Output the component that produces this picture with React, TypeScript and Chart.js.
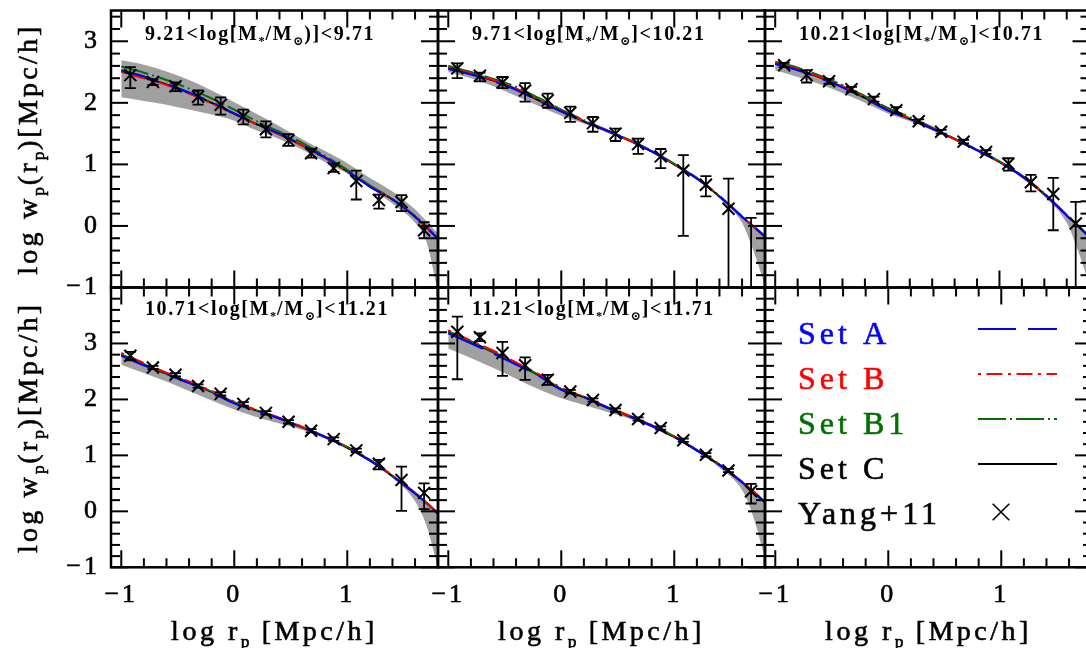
import React, { useEffect, useRef } from 'react';
import { Chart, registerables } from 'chart.js';

Chart.register(...registerables);

// ---------------- data ----------------
const X_TICK_VALUES = [-1, 0, 1];
const Y_TICK_VALUES = [-1, 0, 1, 2, 3];

const PANEL_LO = ['9.21', '9.71', '10.21', '10.71', '11.21'];
const PANEL_HI = ['9.71', '10.21', '10.71', '11.21', '11.71'];
const PANEL_CLOSE = [')]', ']', ']', ']', ']'];

const SERIES_NAMES = ['Set A', 'Set B', 'Set B1', 'Set C', 'Yang+11'];

const YANG_LOG_RP = [-0.92, -0.72, -0.52, -0.32, -0.12, 0.08, 0.28, 0.48, 0.68, 0.88, 1.08, 1.28, 1.48, 1.68];

const YANG_WP = [
  [2.45, 2.34, 2.27, 2.10, 1.97, 1.78, 1.57, 1.39, 1.18, 0.94, 0.73, 0.42, 0.39, -0.07],
  [2.56, 2.44, 2.33, 2.20, 2.04, 1.84, 1.67, 1.50, 1.33, 1.13, 0.90, 0.67, 0.28, -1.3],
  [2.61, 2.45, 2.35, 2.22, 2.06, 1.88, 1.70, 1.53, 1.37, 1.20, 1.01, 0.71, 0.52, 0.04],
  [2.78, 2.57, 2.44, 2.24, 2.10, 1.92, 1.76, 1.60, 1.44, 1.29, 1.09, 0.85, 0.56, 0.33],
  [3.21, 3.11, 2.83, 2.61, 2.35, 2.14, 1.99, 1.81, 1.65, 1.49, 1.27, 1.01, 0.73, 0.36],
];
const YANG_HI = [
  [2.58, 2.38, 2.33, 2.20, 2.09, 1.89, 1.70, 1.49, 1.25, 1.01, 0.90, 0.51, 0.50, 0.06],
  [2.64, 2.49, 2.42, 2.32, 2.15, 1.94, 1.77, 1.58, 1.42, 1.25, 1.15, 0.81, 0.77, 0.13],
  [2.65, 2.53, 2.39, 2.26, 2.10, 1.93, 1.73, 1.56, 1.40, 1.23, 1.10, 0.83, 0.78, 0.39],
  [2.85, 2.60, 2.47, 2.27, 2.13, 1.95, 1.79, 1.63, 1.47, 1.32, 1.12, 0.92, 0.80, 0.50],
  [3.48, 3.18, 3.03, 2.75, 2.44, 2.17, 2.02, 1.84, 1.68, 1.52, 1.30, 1.04, 0.76, 0.49],
];
const YANG_LO = [
  [2.24, 2.29, 2.19, 1.97, 1.81, 1.65, 1.44, 1.30, 1.11, 0.88, 0.43, 0.28, 0.24, -0.20],
  [2.40, 2.35, 2.24, 2.02, 1.92, 1.69, 1.53, 1.38, 1.17, 0.94, -0.16, 0.48, -1.6, -1.6],
  [2.58, 2.33, 2.31, 2.18, 2.02, 1.83, 1.67, 1.50, 1.34, 1.17, 0.90, 0.56, -0.07, -1.6],
  [2.70, 2.54, 2.41, 2.21, 2.07, 1.89, 1.73, 1.57, 1.41, 1.26, 1.06, 0.75, 0.01, 0.04],
  [2.36, 3.04, 2.42, 2.35, 2.26, 2.11, 1.96, 1.78, 1.62, 1.46, 1.24, 0.98, 0.70, 0.14],
];

const MODEL_LOG_RP = [-1.0, -0.8, -0.6, -0.4, -0.2, 0.0, 0.2, 0.4, 0.6, 0.8, 1.0, 1.2, 1.4, 1.6, 1.7, 1.8];

const SET_A = [
  [2.53, 2.43, 2.31, 2.17, 2.01, 1.83, 1.66, 1.50, 1.32, 1.12, 0.89, 0.64, 0.43, 0.15, -0.02, -0.21],
  [2.55, 2.46, 2.35, 2.21, 2.03, 1.86, 1.70, 1.55, 1.39, 1.21, 1.00, 0.77, 0.48, 0.15, -0.01, -0.17],
  [2.63, 2.53, 2.40, 2.25, 2.07, 1.88, 1.74, 1.58, 1.41, 1.23, 1.04, 0.81, 0.52, 0.17, 0.00, -0.18],
  [2.78, 2.61, 2.45, 2.29, 2.12, 1.93, 1.79, 1.66, 1.50, 1.33, 1.14, 0.91, 0.63, 0.32, 0.15, -0.04],
  [3.18, 3.00, 2.82, 2.62, 2.42, 2.17, 2.04, 1.86, 1.70, 1.53, 1.33, 1.09, 0.83, 0.52, 0.35, 0.16],
];
const SET_B = [
  [2.50, 2.40, 2.29, 2.15, 1.99, 1.82, 1.65, 1.49, 1.31, 1.11, 0.88, 0.64, 0.43, 0.15, -0.02, -0.21],
  [2.58, 2.48, 2.37, 2.23, 2.05, 1.87, 1.71, 1.55, 1.39, 1.21, 1.00, 0.77, 0.48, 0.15, -0.01, -0.17],
  [2.65, 2.55, 2.42, 2.27, 2.09, 1.90, 1.75, 1.59, 1.41, 1.23, 1.04, 0.81, 0.52, 0.17, 0.00, -0.18],
  [2.83, 2.65, 2.48, 2.32, 2.15, 1.96, 1.81, 1.67, 1.51, 1.34, 1.15, 0.92, 0.64, 0.33, 0.16, -0.03],
  [3.24, 3.05, 2.87, 2.66, 2.45, 2.21, 2.05, 1.87, 1.71, 1.54, 1.34, 1.10, 0.84, 0.53, 0.36, 0.17],
];
const SET_B1 = [
  [2.59, 2.49, 2.37, 2.23, 2.07, 1.89, 1.70, 1.53, 1.35, 1.14, 0.91, 0.66, 0.44, 0.16, -0.01, -0.20],
  [2.60, 2.50, 2.39, 2.26, 2.08, 1.89, 1.72, 1.56, 1.40, 1.22, 1.01, 0.78, 0.49, 0.16, 0.00, -0.16],
  [2.67, 2.57, 2.44, 2.29, 2.11, 1.92, 1.77, 1.60, 1.42, 1.24, 1.05, 0.82, 0.53, 0.18, 0.01, -0.17],
  [2.81, 2.63, 2.47, 2.31, 2.14, 1.95, 1.80, 1.67, 1.51, 1.34, 1.15, 0.92, 0.64, 0.33, 0.16, -0.03],
  [3.22, 3.04, 2.85, 2.65, 2.44, 2.19, 2.05, 1.87, 1.71, 1.54, 1.34, 1.10, 0.84, 0.53, 0.36, 0.17],
];
const SET_C = [
  [2.51, 2.41, 2.30, 2.16, 2.00, 1.82, 1.65, 1.49, 1.31, 1.11, 0.89, 0.64, 0.43, 0.15, -0.02, -0.21],
  [2.57, 2.47, 2.36, 2.22, 2.04, 1.86, 1.70, 1.55, 1.39, 1.21, 1.00, 0.77, 0.48, 0.15, -0.01, -0.17],
  [2.64, 2.54, 2.41, 2.26, 2.08, 1.89, 1.74, 1.58, 1.41, 1.23, 1.04, 0.81, 0.52, 0.17, 0.00, -0.18],
  [2.80, 2.62, 2.46, 2.30, 2.13, 1.94, 1.80, 1.66, 1.50, 1.33, 1.14, 0.91, 0.63, 0.32, 0.15, -0.04],
  [3.21, 3.03, 2.84, 2.64, 2.43, 2.18, 2.04, 1.86, 1.70, 1.53, 1.33, 1.09, 0.83, 0.52, 0.35, 0.16],
];
const BAND_HI = [
  [2.69, 2.62, 2.51, 2.37, 2.20, 2.01, 1.82, 1.62, 1.41, 1.22, 1.02, 0.78, 0.56, 0.27, 0.08, -0.12],
  [2.62, 2.51, 2.39, 2.25, 2.07, 1.88, 1.71, 1.55, 1.39, 1.21, 1.00, 0.77, 0.48, 0.16, 0.00, -0.16],
  [2.64, 2.54, 2.41, 2.26, 2.08, 1.89, 1.74, 1.58, 1.41, 1.23, 1.04, 0.81, 0.52, 0.17, 0.01, -0.17],
  [2.82, 2.63, 2.46, 2.29, 2.11, 1.93, 1.79, 1.66, 1.50, 1.33, 1.14, 0.91, 0.63, 0.31, 0.15, -0.04],
  [3.21, 3.02, 2.83, 2.62, 2.42, 2.18, 2.03, 1.86, 1.70, 1.53, 1.33, 1.09, 0.83, 0.52, 0.35, 0.17],
];
const BAND_LO = [
  [2.09, 2.03, 1.97, 1.89, 1.81, 1.71, 1.55, 1.41, 1.24, 1.04, 0.85, 0.62, 0.36, 0.05, -0.25, -1.05],
  [2.50, 2.40, 2.27, 2.11, 1.95, 1.79, 1.66, 1.52, 1.37, 1.19, 0.98, 0.75, 0.45, 0.05, -0.40, -0.95],
  [2.53, 2.42, 2.30, 2.16, 2.00, 1.83, 1.70, 1.55, 1.39, 1.21, 1.02, 0.78, 0.48, 0.05, -0.40, -0.95],
  [2.62, 2.47, 2.32, 2.15, 1.98, 1.82, 1.68, 1.57, 1.46, 1.30, 1.11, 0.88, 0.60, 0.18, -0.25, -0.98],
  [2.91, 2.74, 2.56, 2.37, 2.18, 2.02, 1.90, 1.78, 1.66, 1.50, 1.30, 1.06, 0.78, 0.38, -0.10, -0.82],
];

// ---------------- layout & style ----------------
const CANVAS_W = 1100;
const CANVAS_H = 648;
const FRAME_LEFT = 111;
const PANEL_W = 327;
const ROW_TOP = [6.25, 287.5];
const ROW_BOTTOM = [287.5, 567.3];
const ROW_YMAX = [3.5, 4];
const X_MIN = -1.091;
const X_MAX = 1.803;
const Y_MIN = -1;
const Y_AXIS_W = 95;
const X_AXIS_H = 55;

const SERIF = '"Liberation Serif", "Times New Roman", "DejaVu Serif", serif';
const BLUE = '#0000ff';
const RED = '#ff0000';
const GREEN = '#007000';
const BLACK = '#000000';
const GRAY = '#a0a0a0';
const LEGEND_COLORS = [BLUE, RED, GREEN, BLACK, BLACK];
const DASH_A = [38, 12];
const DASH_B = [3, 5.5, 16, 5.5];
const DASH_B1 = [28, 4, 2, 4];
const LEGEND_DASHES = [DASH_A, DASH_B, DASH_B1, []];

type Seg = { t: string; sub?: boolean };

function segWidth(ctx: CanvasRenderingContext2D, segs: Seg[], size: number, weight: string, ls: number) {
  let w = 0;
  for (const s of segs) {
    const fs = s.sub ? size * 0.62 : size;
    ctx.font = `${weight} ${fs}px ${SERIF}`;
    (ctx as any).letterSpacing = `${s.sub ? ls * 0.5 : ls}px`;
    w += ctx.measureText(s.t).width;
  }
  return w;
}

function drawRich(ctx: CanvasRenderingContext2D, segs: Seg[], x: number, y: number, size: number, weight: string, ls: number, color: string, stroke = 0) {
  ctx.fillStyle = color;
  ctx.strokeStyle = color;
  ctx.textAlign = 'left';
  ctx.textBaseline = 'alphabetic';
  let cx = x;
  for (const s of segs) {
    const fs = s.sub ? size * 0.62 : size;
    ctx.font = `${weight} ${fs}px ${SERIF}`;
    (ctx as any).letterSpacing = `${s.sub ? ls * 0.5 : ls}px`;
    const yy = y + (s.sub ? size * 0.25 : 0);
    ctx.fillText(s.t, cx, yy);
    if (stroke > 0) {
      ctx.lineWidth = stroke;
      ctx.setLineDash([]);
      ctx.strokeText(s.t, cx, yy);
    }
    cx += ctx.measureText(s.t).width;
  }
}

function fmtTick(v: any) {
  const n = Number(v);
  return n < 0 ? '\u2212' + Math.abs(n) : String(n);
}

function panelPlugin(p: number) {
  const col = p % 3;
  const row = Math.floor(p / 3);
  return {
    id: 'panelDecor' + p,
    beforeDraw(chart: any) {
      chart.ctx.letterSpacing = '3px';
    },
    afterDraw(chart: any) {
      const ctx: CanvasRenderingContext2D = chart.ctx;
      const a = chart.chartArea;
      const xs = chart.scales.x;
      const ys = chart.scales.y;
      ctx.save();
      // inward ticks on all four sides
      ctx.strokeStyle = BLACK;
      ctx.lineWidth = 2;
      ctx.lineCap = 'butt';
      const seg = (x1: number, y1: number, x2: number, y2: number) => {
        ctx.beginPath();
        ctx.moveTo(x1, y1);
        ctx.lineTo(x2, y2);
        ctx.stroke();
      };
      for (let k = 0; k < 40; k++) {
        const v = -1 + 0.2 * k;
        if (v > X_MAX + 1e-6) break;
        const px = xs.getPixelForValue(v);
        const major = Math.abs(v - Math.round(v)) < 1e-6;
        const L = major ? 17 : 9;
        seg(px, a.top, px, a.top + L);
        seg(px, a.bottom, px, a.bottom - L);
      }
      for (let k = 0; k < 40; k++) {
        const v = Y_MIN + 0.2 * k;
        if (v > ROW_YMAX[row] + 1e-6) break;
        const py = ys.getPixelForValue(v);
        const major = Math.abs(v - Math.round(v)) < 1e-6;
        const L = major ? 17 : 9;
        seg(a.left, py, a.left + L, py);
        seg(a.right, py, a.right - L, py);
      }
      // frame
      ctx.lineWidth = 2.5;
      ctx.strokeRect(a.left, a.top, a.right - a.left, a.bottom - a.top);

      // panel title
      if (p < 5) {
        const segs: Seg[] = [
          { t: `${PANEL_LO[p]}<log[M` },
          { t: '*', sub: true },
          { t: '/M' },
          { t: '\u2299', sub: true },
          { t: `${PANEL_CLOSE[p]}<${PANEL_HI[p]}` },
        ];
        drawRich(ctx, segs, a.left + 34, a.top + (row === 0 ? 29.75 : 27.5), 20, 'bold', 1.6, BLACK);
      }
      // y-axis title
      if (col === 0) {
        const segs: Seg[] = [
          { t: 'log w' }, { t: 'p', sub: true }, { t: '(r' }, { t: 'p', sub: true }, { t: ')[Mpc/h]' },
        ];
        const w = segWidth(ctx, segs, 28, 'normal', 3.2);
        ctx.save();
        ctx.translate(37, (a.top + a.bottom) / 2);
        ctx.rotate(-Math.PI / 2);
        drawRich(ctx, segs, -w / 2, 0, 28, 'normal', 3.2, BLACK, 0.6);
        ctx.restore();
      }
      // x-axis title
      if (row === 1) {
        const segs: Seg[] = [{ t: 'log r' }, { t: 'p', sub: true }, { t: ' [Mpc/h]' }];
        const w = segWidth(ctx, segs, 28, 'normal', 3.5);
        drawRich(ctx, segs, (a.left + a.right) / 2 - w / 2, 640, 28, 'normal', 3.5, BLACK, 0.6);
      }
      // legend panel
      if (p === 5) {
        for (let i = 0; i < SERIES_NAMES.length; i++) {
          const base = a.top + 56.5 + 45 * i;
          drawRich(ctx, [{ t: SERIES_NAMES[i] }], a.left + 33, base, 32, 'normal', 4, LEGEND_COLORS[i], 0.6);
          ctx.strokeStyle = LEGEND_COLORS[i];
          if (i < 4) {
            ctx.lineWidth = 2;
            ctx.setLineDash(LEGEND_DASHES[i]);
            seg(a.left + 213, base - 15, a.left + 292, base - 15);
            ctx.setLineDash([]);
          } else {
            const cx = a.left + 236;
            const cy = base - 12;
            const h = 8.3;
            ctx.lineWidth = 1.6;
            seg(cx - h, cy - h, cx + h, cy + h);
            seg(cx - h, cy + h, cx + h, cy - h);
          }
        }
      }
      ctx.restore();
      (ctx as any).letterSpacing = '0px';
    },
  };
}

function buildDatasets(p: number) {
  const model = (ys: number[]) => MODEL_LOG_RP.map((x, i) => ({ x, y: ys[i] }));
  const bars: { x: number; y: number | null }[] = [];
  YANG_LOG_RP.forEach((x, i) => {
    bars.push({ x, y: YANG_LO[p][i] }, { x, y: YANG_HI[p][i] }, { x, y: null });
  });
  const lineBase = { pointRadius: 0, fill: false, borderWidth: 2, cubicInterpolationMode: 'monotone' };
  return [
    {
      label: 'range upper', data: model(BAND_HI[p]), fill: '+1', backgroundColor: GRAY,
      borderColor: 'rgba(0,0,0,0)', borderWidth: 0, pointRadius: 0, cubicInterpolationMode: 'monotone', order: 20,
    },
    {
      label: 'range lower', data: model(BAND_LO[p]), fill: false,
      borderColor: 'rgba(0,0,0,0)', borderWidth: 0, pointRadius: 0, cubicInterpolationMode: 'monotone', order: 21,
    },
    { ...lineBase, label: SERIES_NAMES[3], data: model(SET_C[p]), borderColor: BLACK, order: 14 },
    { ...lineBase, label: SERIES_NAMES[2], data: model(SET_B1[p]), borderColor: GREEN, borderDash: DASH_B1, order: 13 },
    { ...lineBase, label: SERIES_NAMES[1], data: model(SET_B[p]), borderColor: RED, borderDash: DASH_B, order: 12 },
    { ...lineBase, label: SERIES_NAMES[0], data: model(SET_A[p]), borderColor: BLUE, borderDash: DASH_A, order: 11 },
    {
      label: 'error', data: bars, showLine: true, spanGaps: false, borderColor: BLACK, borderWidth: 1.8,
      pointStyle: 'line', pointRadius: 5.5, pointBorderWidth: 1.8, pointBorderColor: BLACK, fill: false, order: 2,
    },
    {
      label: SERIES_NAMES[4], data: YANG_LOG_RP.map((x, i) => ({ x, y: YANG_WP[p][i] })), showLine: false,
      pointStyle: 'crossRot', pointRadius: 8.5, pointBorderWidth: 2, pointBorderColor: BLACK, fill: false, order: 1,
    },
  ];
}

function panelConfig(p: number): any {
  const col = p % 3;
  const row = Math.floor(p / 3);
  const left = FRAME_LEFT + col * PANEL_W;
  const right = left + PANEL_W;
  const top = ROW_TOP[row];
  const bottom = ROW_BOTTOM[row];
  const showX = row === 1;
  const showY = col === 0;
  const zeroPad = (s: any) => {
    s.paddingLeft = 0; s.paddingRight = 0; s.paddingTop = 0; s.paddingBottom = 0;
  };
  const tickStyle = {
    color: BLACK, autoSkip: false, maxRotation: 0, minRotation: 0,
    font: { family: SERIF, size: 26 }, callback: fmtTick,
    textStrokeColor: BLACK, textStrokeWidth: 0.6,
  };
  return {
    type: 'line',
    data: { datasets: p < 5 ? buildDatasets(p) : [] },
    options: {
      responsive: false,
      animation: false,
      events: [],
      devicePixelRatio: 1,
      layout: {
        padding: {
          left: showY ? left - Y_AXIS_W : left,
          top,
          right: CANVAS_W - right,
          bottom: showX ? CANVAS_H - bottom - X_AXIS_H : CANVAS_H - bottom,
        },
      },
      plugins: { legend: { display: false }, tooltip: { enabled: false }, title: { display: false } },
      scales: {
        x: {
          type: 'linear', min: X_MIN, max: X_MAX, display: showX,
          grid: { display: false, drawTicks: false }, border: { display: false },
          ticks: { ...tickStyle, padding: 12 },
          afterBuildTicks: (s: any) => { s.ticks = X_TICK_VALUES.map((v) => ({ value: v })); },
          afterFit: (s: any) => { s.height = showX ? X_AXIS_H : 0; zeroPad(s); },
        },
        y: {
          type: 'linear', min: Y_MIN, max: ROW_YMAX[row], display: showY,
          grid: { display: false, drawTicks: false }, border: { display: false },
          ticks: { ...tickStyle, padding: 11 },
          afterBuildTicks: (s: any) => { s.ticks = Y_TICK_VALUES.map((v) => ({ value: v })); },
          afterFit: (s: any) => { s.width = showY ? Y_AXIS_W : 0; zeroPad(s); },
        },
      },
    },
    plugins: [panelPlugin(p)],
  };
}

const PANELS = [0, 1, 2, 3, 4, 5];

export default function App() {
  const refs = useRef<(HTMLCanvasElement | null)[]>([]);
  useEffect(() => {
    const charts = PANELS.map((p) => new Chart(refs.current[p] as HTMLCanvasElement, panelConfig(p)));
    return () => charts.forEach((c) => c.destroy());
  }, []);
  return (
    <div style={{ position: 'fixed', left: 0, top: 0, width: 1086, height: 648, overflow: 'hidden', background: '#ffffff' }}>
      {PANELS.map((p) => (
        <canvas
          key={p}
          ref={(el) => { refs.current[p] = el; }}
          width={CANVAS_W}
          height={CANVAS_H}
          style={{ position: 'absolute', left: 0, top: 0, width: CANVAS_W, height: CANVAS_H }}
        />
      ))}
    </div>
  );
}
